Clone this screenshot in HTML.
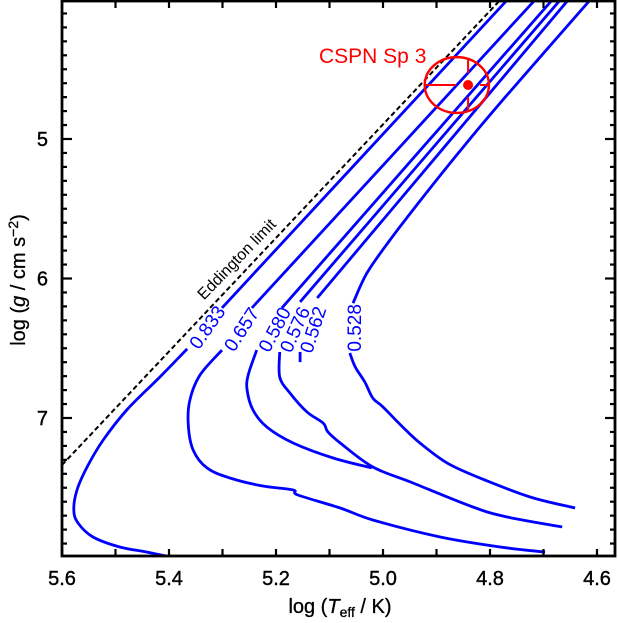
<!DOCTYPE html>
<html><head><meta charset="utf-8"><style>
html,body{margin:0;padding:0;background:#fff;}
svg{display:block;font-family:"Liberation Sans",Arial,sans-serif;}
</style></head><body>
<svg id="chart" width="618" height="623" viewBox="0 0 618 623"></svg>
<script>
// ---- data ----
const xTicks = [5.6,5.4,5.2,5.0,4.8,4.6];
const xTickLabels = ["5.6","5.4","5.2","5.0","4.8","4.6"];
const yTicks = [5,6,7];
const yTickLabels = ["5","6","7"];
const trackMasses = ["0.833","0.657","0.580","0.576","0.562","0.528"];
const trackUpper = [
 [[4.768,4.004],[5.301,6.211]],
 [[4.716,4.004],[5.245,6.211]],
 [[4.684,4.004],[5.189,6.211]],
 [[4.669,4.004],[5.155,6.168]],
 [[4.654,4.004],[5.123,6.140]],
 [[4.613,4.004],[4.776,4.720],[4.850,5.057],[4.925,5.416],[4.987,5.724],[5.030,5.961],[5.056,6.176]]
];
const trackLower = [
 [[5.366,6.505],[5.417,6.706],[5.479,6.943],[5.523,7.158],[5.553,7.351],[5.572,7.516],[5.578,7.659],[5.570,7.753],[5.542,7.853],[5.492,7.925],[5.441,7.961],[5.398,7.996]],
 [[5.301,6.513],[5.342,6.692],[5.361,6.871],[5.364,7.050],[5.355,7.229],[5.329,7.358],[5.286,7.430],[5.226,7.487],[5.168,7.516],[5.159,7.552],[5.080,7.645],[5.019,7.731],[4.893,7.853],[4.781,7.925],[4.697,7.961]],
 [[5.236,6.513],[5.252,6.692],[5.254,6.799],[5.243,6.943],[5.217,7.065],[5.168,7.179],[5.093,7.287],[5.021,7.358]],
 [[5.193,6.527],[5.193,6.706],[5.174,6.821],[5.142,6.957],[5.112,7.036],[5.103,7.100],[5.080,7.179],[5.019,7.351],[4.944,7.466],[4.832,7.638],[4.768,7.710],[4.665,7.781]],
 [[5.155,6.527],[5.155,6.599]],
 [[5.062,6.534],[5.052,6.634],[5.034,6.742],[5.019,6.857],[5.000,6.921],[4.963,7.065],[4.931,7.179],[4.880,7.323],[4.819,7.430],[4.725,7.566],[4.641,7.645]]
];
const labelPos = [[5.327,6.354],[5.263,6.369],[5.201,6.369],[5.163,6.369],[5.129,6.369],[5.051,6.354]];
const labelAngle = [-55,-57,-62,-66,-72,-90];
const eddington = [[5.6,7.337],[4.781,4.004]];
const starT = [4.841];
const starG = [4.613];
const ellipseT = 4.862, ellipseG = 4.613, ellipseRT = 0.060, ellipseRG = 0.200;

// ---- axes ----
const L=62,R=615,T=1,B=556;
const x = v => L + (5.6 - v)*535;
const y = v => 139 + (v - 5)*139.5;
const svg = document.getElementById('chart');
const NS='http://www.w3.org/2000/svg';
function mk(tag, attrs, parent){const e=document.createElementNS(NS,tag);for(const k in attrs)e.setAttribute(k,attrs[k]);(parent||svg).appendChild(e);return e;}

const defs=mk('defs',{});
const cp=mk('clipPath',{id:'plotclip'},defs);
mk('rect',{x:L,y:T,width:R-L,height:B-T},cp);
const plot=mk('g',{'clip-path':'url(#plotclip)'});



const ed=mk('line',{x1:x(eddington[0][0]),y1:y(eddington[0][1]),x2:x(eddington[1][0]),y2:y(eddington[1][1]),stroke:'#000','stroke-width':2,'stroke-dasharray':'5 3'},plot);


const et=mk('text',{x:0,y:0,'font-size':16,fill:'#000',transform:`translate(${x(5.327)-4},${y(6.18)-3}) rotate(-46)`},plot);
et.textContent='Eddington limit';



function smooth(a){
  const P=a.map(p=>[x(p[0]),y(p[1])]);
  let d='M'+P[0][0].toFixed(1)+','+P[0][1].toFixed(1);
  for(let i=0;i<P.length-1;i++){
    const p0=P[Math.max(0,i-1)],p1=P[i],p2=P[i+1],p3=P[Math.min(P.length-1,i+2)];
    const c1=[p1[0]+(p2[0]-p0[0])/6,p1[1]+(p2[1]-p0[1])/6];
    const c2=[p2[0]-(p3[0]-p1[0])/6,p2[1]-(p3[1]-p1[1])/6];
    d+=`C${c1[0].toFixed(1)},${c1[1].toFixed(1)} ${c2[0].toFixed(1)},${c2[1].toFixed(1)} ${p2[0].toFixed(1)},${p2[1].toFixed(1)}`;
  }
  return d;
}
trackMasses.forEach((m,i)=>{
  const g=mk('g',{},plot);
  
  
  mk('path',{d:smooth(trackUpper[i]),fill:'none',stroke:'#0000ff','stroke-width':2.8,'stroke-linejoin':'round'},g);
  mk('path',{d:smooth(trackLower[i]),fill:'none',stroke:'#0000ff','stroke-width':2.8,'stroke-linejoin':'round'},g);
  const t=mk('text',{x:0,y:0,'font-size':19,fill:'#0000ff','text-anchor':'middle','dominant-baseline':'central',transform:`translate(${x(labelPos[i][0])},${y(labelPos[i][1])}) rotate(${labelAngle[i]})`},g);
  t.textContent=m;
  
  
});

const sg=mk('g',{},plot);


const cx=x(ellipseT), cy=y(ellipseG), rx=ellipseRT*535, ry=ellipseRG*139.5;
mk('ellipse',{cx:cx,cy:cy,rx:rx,ry:ry,fill:'none',stroke:'#ff0000','stroke-width':2.4},sg);
starT.forEach((t,i)=>{
  const px=x(t), py=y(starG[i]);
  mk('circle',{cx:px,cy:py,r:5,fill:'#ff0000'},sg);
  mk('line',{x1:cx-rx,y1:py,x2:px-12,y2:py,stroke:'#ff0000','stroke-width':2},sg);
  mk('line',{x1:px+12,y1:py,x2:cx+rx,y2:py,stroke:'#ff0000','stroke-width':2},sg);
  mk('line',{x1:px,y1:cy-ry+1,x2:px,y2:py-12,stroke:'#ff0000','stroke-width':2},sg);
  mk('line',{x1:px,y1:py+12,x2:px,y2:cy+ry-1,stroke:'#ff0000','stroke-width':2},sg);
});
const st=mk('text',{x:319,y:63,'font-size':21,fill:'#ff0000'});
st.textContent='CSPN Sp 3';



const ax=mk('g',{stroke:'#000','stroke-width':2.2});


mk('rect',{x:L,y:T,width:R-L,height:B-T,fill:'none','stroke-width':2.8},ax);
for(let k=0;k<=10;k++){const v=5.6-k*0.1;const px=x(v);if(px>R)break;
  mk('line',{x1:px,y1:B,x2:px,y2:B-7},ax);mk('line',{x1:px,y1:T,x2:px,y2:T+7},ax);}
for(let k=0;k<=40;k++){const v=4.0+k*0.1;const py=y(v);if(py<T||py>B)continue;
  const major=Math.abs(v-Math.round(v))<1e-6;const len=major?10:5;
  mk('line',{x1:L,y1:py,x2:L+len,y2:py},ax);mk('line',{x1:R,y1:py,x2:R-len,y2:py},ax);}
xTicks.forEach((v,i)=>{const t=mk('text',{x:x(v),y:585,'font-size':20,'text-anchor':'middle',fill:'#000','stroke':'#000','stroke-width':0.4});t.textContent=xTickLabels[i];
  
  });
yTicks.forEach((v,i)=>{const t=mk('text',{x:48,y:y(v)+7,'font-size':20,'text-anchor':'end',fill:'#000','stroke':'#000','stroke-width':0.4});t.textContent=yTickLabels[i];
  
  });
</script>
<div style="position:absolute;left:0;top:0;width:618px;height:623px;pointer-events:none;">
<svg width="618" height="623" style="position:absolute;left:0;top:0;font-family:'Liberation Sans',Arial,sans-serif;">
<text x="340" y="613" font-size="20" text-anchor="middle" stroke="#000" stroke-width="0.3">log (<tspan font-style="italic">T</tspan><tspan font-size="14" dy="4">eff</tspan><tspan dy="-4"> / K)</tspan></text>
<text transform="translate(25,280) rotate(-90)" font-size="20" text-anchor="middle" stroke="#000" stroke-width="0.3">log (<tspan font-style="italic">g</tspan> / cm s<tspan font-size="14" dy="-7">−2</tspan><tspan dy="7">)</tspan></text>
</svg></div>
</body></html>
